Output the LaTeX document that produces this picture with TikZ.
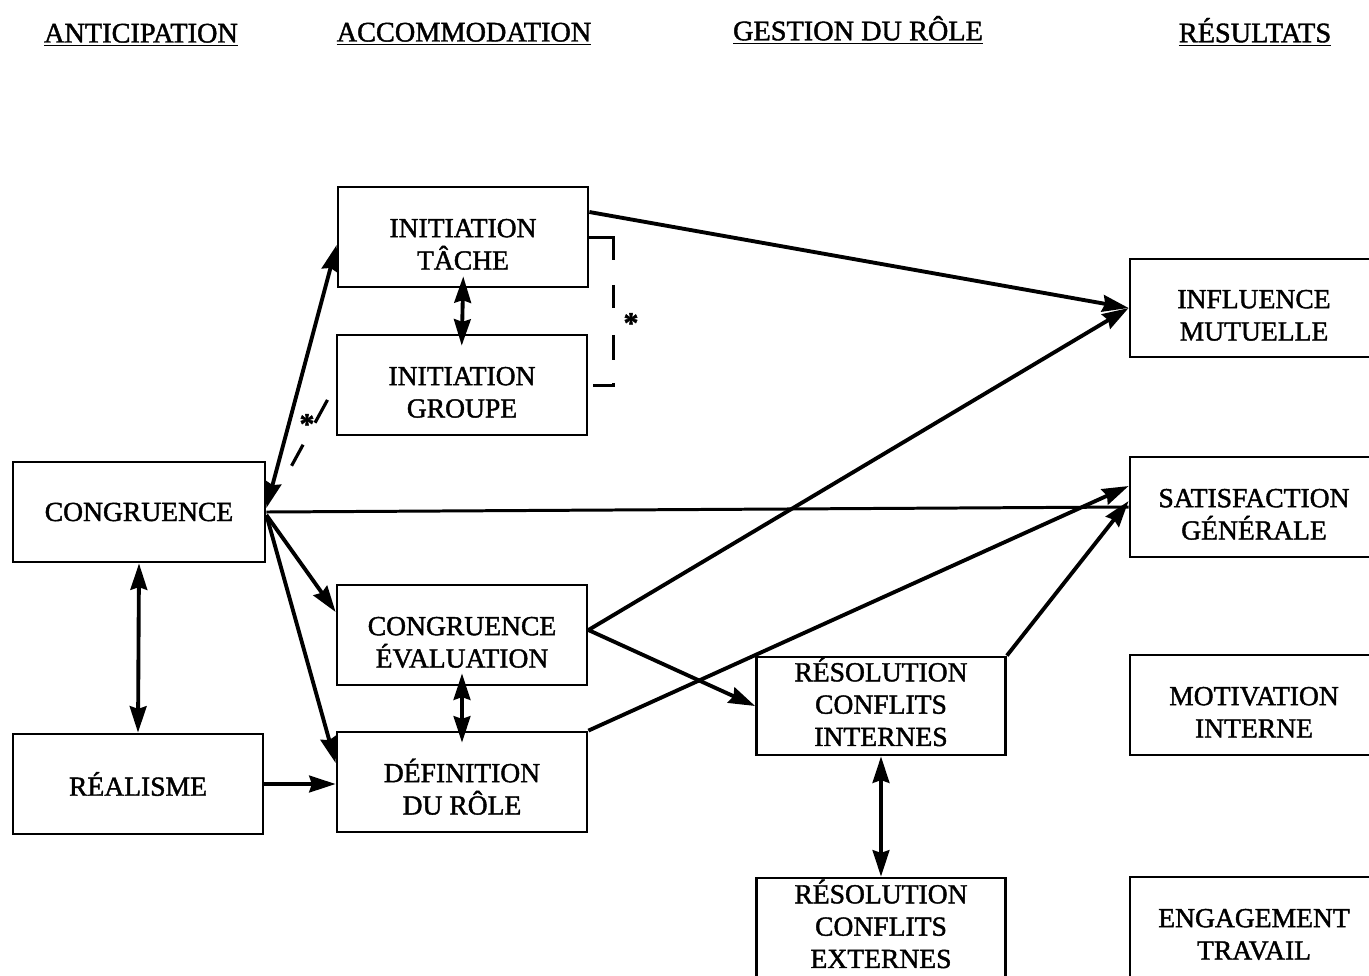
\documentclass[tikz,border=0pt]{standalone}
\usepackage{fontspec}
\setmainfont{Liberation Serif}
\newfontfamily\dgserif{Liberation Serif}[FakeBold=1.5]
\usetikzlibrary{arrows.meta}
\newcommand\dgboxfont{\dgserif\fontsize{15.7}{18.4}\selectfont}
\newcommand\dgheadfont{\dgserif\fontsize{16.1}{18}\selectfont}
\begin{document}
\begin{tikzpicture}[x=0.02cm, y=-0.02cm,
  box/.style={draw, line width=1.6pt, minimum width=5cm, minimum height=2cm,
    inner sep=0pt, align=center, font=\dgboxfont},
  two/.style={text height=37pt, text depth=0pt},
  three/.style={text height=45.5pt, text depth=0pt},
  hdr/.style={font=\dgheadfont, inner sep=0pt},
  link/.style={line width=2.2pt, -{Stealth[length=15pt,width=9.5pt,inset=1.5pt]}},
  twoway/.style={line width=2.2pt,
    {Stealth[length=15pt,width=9.5pt,inset=1.5pt]}-{Stealth[length=15pt,width=9.5pt,inset=1.5pt]}},
  plain/.style={line width=1.7pt},
  star/.style={font=\dgserif\bfseries\fontsize{17}{17}\selectfont, inner sep=0pt}
]
\clip (0,0) rectangle (1369,975);

% column headings
\node[hdr] (h1) at (141,35) {\underline{ANTICIPATION}};
\node[hdr] (h2) at (464,34) {\underline{ACCOMMODATION}};
\node[hdr] (h3) at (858,30) {\underline{GESTION DU RÔLE}};
\node[hdr] (h4) at (1255,32) {\underline{RÉSULTATS}};

% boxes
\node[box, minimum width=5.04cm] (cong) at (139,512) {CONGRUENCE};
\node[box] (real) at (138,784) {RÉALISME};
\node[box, two] (tache) at (463,237) {INITIATION\\TÂCHE};
\node[box, two] (groupe) at (462,385) {INITIATION\\GROUPE};
\node[box, two] (eval) at (462,635) {CONGRUENCE\\ÉVALUATION};
\node[box, two] (defin) at (462,782) {DÉFINITION\\DU RÔLE};
\node[box, three, minimum width=4.98cm, minimum height=1.96cm] (rint) at (881,706) {RÉSOLUTION\\CONFLITS\\INTERNES};
\node[box, three, minimum width=4.98cm] (rext) at (881,928) {RÉSOLUTION\\CONFLITS\\EXTERNES};
\node[box, two, minimum width=4.96cm, minimum height=1.96cm] (infl) at (1254,308) {INFLUENCE\\MUTUELLE};
\node[box, two, minimum width=4.96cm] (satis) at (1254,507) {SATISFACTION\\GÉNÉRALE};
\node[box, two, minimum width=4.96cm] (motiv) at (1254,705) {MOTIVATION\\INTERNE};
\node[box, two, minimum width=4.96cm] (engag) at (1254,927) {ENGAGEMENT\\TRAVAIL};

% connectors
\draw[link] ([yshift=0.5cm]tache.east) -- (infl.west);
\draw[link] ([yshift=0.1cm]eval.east) -- (infl.west);
\draw[plain] (cong.east) -- (satis.west);
\draw[link] ([yshift=-0.06cm]cong.east) -- ([yshift=0.46cm]eval.west);
\draw[link] ([yshift=-0.06cm]cong.east) -- ([yshift=0.38cm]defin.west);
\draw[twoway] (cong.south) -- (real.north);
\draw[link] (real.east) -- (real.east -| defin.west);
\draw[twoway, shorten <=-0.24cm, shorten >=-0.24cm] (tache.south) -- (groupe.north);
\draw[twoway, shorten <=-0.26cm, shorten >=-0.24cm] (eval.south) -- (defin.north);
\draw[link] ([yshift=0.1cm]eval.east) -- (rint.west);
\draw[link] (defin.north east) -- ([yshift=0.42cm]satis.west);
\draw[link] (rint.north east) -- ([yshift=0.12cm]satis.west);
\draw[twoway] (rint.south) -- (rext.north);
\draw[twoway] ([yshift=-0.16cm]tache.west) -- ([yshift=0.08cm]cong.east);

% dashed link between initiation groupe and congruence
\draw[line width=1.8pt, shorten <=0.34cm,
  dash pattern=on 0.52cm off 0.5cm on 0.48cm off 5cm]
  (groupe.west) -- (cong.east);
\node[star] (s1) at (307,424) {*};

% dashed bracket joining the two initiation boxes
\draw[line width=1.7pt,
  dash pattern=on 0.94cm off 0.5cm on 0.46cm off 0.54cm on 0.5cm off 0.46cm on 0.44cm]
  (tache.east) -- ++(24,0) |- (groupe.east);
\node[star] (s2) at (631,323) {*};
\end{tikzpicture}
\end{document}
